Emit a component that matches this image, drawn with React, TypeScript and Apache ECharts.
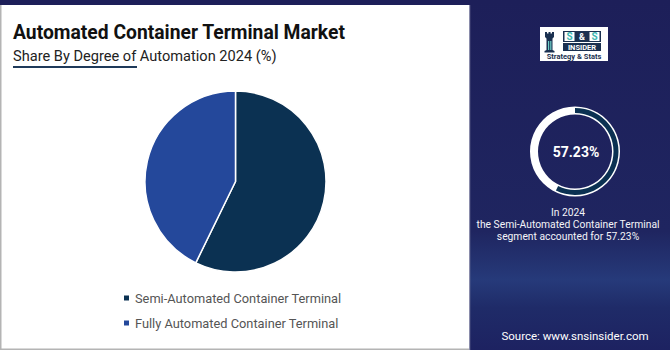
import React, { useEffect, useRef } from "react";
import * as echarts from "echarts";

const categories = ["Semi-Automated Container Terminal", "Fully Automated Container Terminal"];
const shares = [57.23, 42.77];
const colors = ["#0b3152", "#24489b"];
const titleText = "Automated Container Terminal Market";
const subtitleText = "Share By Degree of Automation 2024 (%)";
const highlightValue = 57.23;
const calloutLines = ["In 2024", "the Semi-Automated Container Terminal", "segment accounted for 57.23%"];
const sourceText = "Source: www.snsinsider.com";

const NAVY = "#1d1f59";
const FONT = "Roboto";

export default function App() {
  const ref = useRef<HTMLDivElement>(null);
  useEffect(() => {
    if (!ref.current) return;
    const chart = echarts.init(ref.current, undefined, { renderer: "svg" });
    const option: any = {
      animation: false,
      backgroundColor: NAVY,
      legend: {
        orient: "vertical",
        left: 117,
        top: 286,
        icon: "rect",
        itemWidth: 7,
        itemHeight: 7,
        itemGap: 11,
        textStyle: { fontFamily: FONT, fontSize: 12.8, color: "#555", lineHeight: 14 },
        data: categories,
      },
      graphic: [
        {
          type: "rect",
          shape: { x: 470, y: 0, width: 200, height: 350 },
          style: {
            fill: new echarts.graphic.LinearGradient(0, 0, 0, 1, [
              { offset: 0, color: "#1d1f59" },
              { offset: 0.66, color: "#1f2560" },
              { offset: 0.8, color: "#263a7a" },
              { offset: 0.88, color: "#1f2b68" },
              { offset: 1, color: "#1d2261" },
            ]),
          },
          silent: true,
          z: -10,
        },
        {
          type: "rect",
          shape: { x: 0, y: 5, width: 469, height: 345 },
          style: { fill: "#ffffff" },
          z: -9,
          silent: true,
        },
        { type: "rect", shape: { x: 0, y: 5, width: 1.5, height: 345 }, style: { fill: "#b4b4b4" }, z: -8 },
        { type: "rect", shape: { x: 0, y: 348.5, width: 469, height: 1.5 }, style: { fill: "#b4b4b4" }, z: -8 },
        { type: "rect", shape: { x: 469, y: 5, width: 1.2, height: 345 }, style: { fill: "#8a8cab" }, z: -8 },
        {
          type: "text",
          x: 13,
          y: 32,
          style: {
            text: titleText,
            fontFamily: FONT,
            fontWeight: "bold",
            fontSize: 19.3,
            fill: "#111111",
            verticalAlign: "middle",
          },
        },
        {
          type: "text",
          x: 13,
          y: 55.5,
          style: {
            text: subtitleText,
            fontFamily: FONT,
            fontSize: 14.6,
            fill: "#222222",
            verticalAlign: "middle",
          },
        },
        { type: "rect", shape: { x: 13, y: 66, width: 124, height: 2 }, style: { fill: "#1f3a5a" } },
        { type: "rect", shape: { x: 540, y: 27, width: 68, height: 34 }, style: { fill: "#ffffff" } },
        { type: "rect", shape: { x: 563, y: 31, width: 38, height: 11 }, style: { fill: "#1b3050" } },
        { type: "rect", shape: { x: 564.5, y: 32, width: 10, height: 9 }, style: { fill: "#ffffff" } },
        { type: "rect", shape: { x: 589.5, y: 32, width: 10, height: 9 }, style: { fill: "#ffffff" } },
        {
          type: "text", x: 569.5, y: 36.7,
          style: { text: "S", fontFamily: FONT, fontWeight: "bold", fontSize: 10, fill: "#3fb8b2", align: "center", verticalAlign: "middle" },
        },
        {
          type: "text", x: 582, y: 36.7,
          style: { text: "&", fontFamily: FONT, fontWeight: "bold", fontSize: 9, fill: "#ffffff", align: "center", verticalAlign: "middle" },
        },
        {
          type: "text", x: 594.5, y: 36.7,
          style: { text: "S", fontFamily: FONT, fontWeight: "bold", fontSize: 10, fill: "#3fb8b2", align: "center", verticalAlign: "middle" },
        },
        { type: "rect", shape: { x: 563, y: 43, width: 38, height: 8 }, style: { fill: "#1b3050" } },
        {
          type: "text", x: 582, y: 47.2,
          style: { text: "INSIDER", fontFamily: FONT, fontWeight: "bold", fontSize: 7.5, fill: "#ffffff", align: "center", verticalAlign: "middle" },
        },
        {
          type: "text", x: 574, y: 56.5,
          style: { text: "Strategy & Stats", fontFamily: FONT, fontWeight: "bold", fontSize: 7.5, fill: "#1b3050", align: "center", verticalAlign: "middle" },
        },
        {
          type: "polygon",
          shape: {
            points: [
              [545, 32], [547, 32], [547, 33.5], [548.5, 33.5], [548.5, 32], [550.5, 32], [550.5, 33.5], [552, 33.5], [552, 32], [554, 32],
              [554, 37], [552.5, 38.5], [552.5, 50], [554.5, 51], [554.5, 52.5], [544.5, 52.5], [544.5, 51], [546.5, 50], [546.5, 38.5], [545, 37],
            ],
          },
          style: { fill: "#1b3050" },
        },
        { type: "rect", shape: { x: 548, y: 41, width: 1.2, height: 9 }, style: { fill: "#6fd0c8" } },
        { type: "rect", shape: { x: 550.2, y: 41, width: 1.2, height: 9 }, style: { fill: "#6fd0c8" } },
        {
          type: "ring",
          shape: { cx: 575, cy: 151.5, r: 45, r0: 37 },
          style: { fill: "#ffffff" },
          z: 1,
        },
        {
          type: "text", x: 576, y: 152,
          style: { text: highlightValue.toFixed(2) + "%", fontFamily: FONT, fontWeight: "bold", fontSize: 14, fill: "#ffffff", align: "center", verticalAlign: "middle" },
        },
        ...calloutLines.map((t, i) => ({
          type: "text",
          x: 568,
          y: 212 + i * 12,
          style: { text: t, fontFamily: FONT, fontSize: 10.3, fill: "#f4f4f8", align: "center", verticalAlign: "middle" },
        })),
        {
          type: "text", x: 575, y: 336,
          style: { text: sourceText, fontFamily: FONT, fontSize: 11.5, fill: "#ffffff", align: "center", verticalAlign: "middle" },
        },
      ],
      series: [
        {
          type: "pie",
          center: [235.5, 181.5],
          radius: [0, 90.5],
          startAngle: 90,
          clockwise: true,
          label: { show: false },
          labelLine: { show: false },
          itemStyle: { borderColor: "#ffffff", borderWidth: 1.5 },
          emphasis: { disabled: true },
          data: categories.map((c, i) => ({ name: c, value: shares[i], itemStyle: { color: colors[i] } })),
          z: 2,
        },
        {
          type: "pie",
          center: [575, 151.5],
          radius: [38.5, 43.5],
          startAngle: 90,
          clockwise: true,
          silent: true,
          label: { show: false },
          labelLine: { show: false },
          emphasis: { disabled: true },
          legendHoverLink: false,
          z: 5,
          data: [
            { name: "_hl", value: highlightValue, itemStyle: { color: "#0b3152" } },
            { name: "_rest", value: 100 - highlightValue, itemStyle: { color: "rgba(0,0,0,0)" } },
          ],
        },
      ],
    };
    chart.setOption(option);
    return () => chart.dispose();
  }, []);
  return (
    <div
      ref={ref}
      style={{ position: "fixed", left: 0, top: 0, width: 670, height: 350 }}
    />
  );
}
